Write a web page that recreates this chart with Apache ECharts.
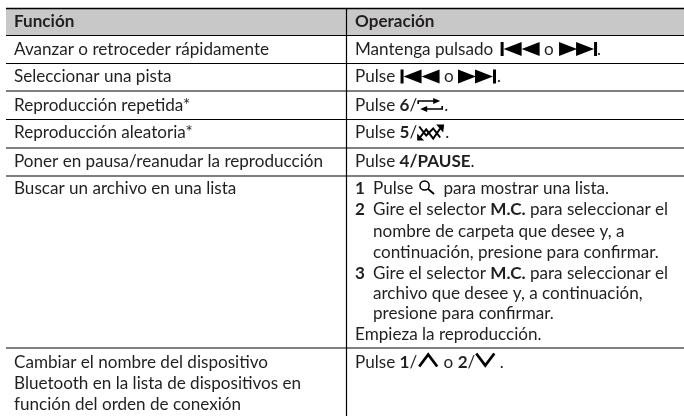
<!DOCTYPE html>
<html><head><meta charset="utf-8">
<style>html,body{margin:0;padding:0;background:#fff}#c{width:684px;height:416px}</style>
<script src="https://cdn.jsdelivr.net/npm/echarts@6/dist/echarts.min.js"></script></head>
<body><div id="c"></div>
<script>
const headers = ['Función', 'Operación'];
const functions = [
  ['Avanzar o retroceder rápidamente'],
  ['Seleccionar una pista'],
  ['Reproducción repetida*'],
  ['Reproducción aleatoria*'],
  ['Poner en pausa/reanudar la reproducción'],
  ['Buscar un archivo en una lista'],
  ['Cambiar el nombre del dispositivo', 'Bluetooth en la lista de dispositivos en', 'función del orden de conexión']
];
const operations = [
  [['Mantenga pulsado ', '+3', '#prev', ' o ', '+1', '#next', '.']],
  [['Pulse ', '+1', '#prev', ' o ', '#next', '+1', '.']],
  [['Pulse ', '*6', '/', '#repeat', '+1', '.']],
  [['Pulse ', '*5', '/', '#shuffle', '.']],
  [['Pulse ', '*4/PAUSE', '.']],
  [['>1', 'Pulse ', '#search', ' para mostrar una lista.'],
   ['>2', 'Gire el selector ', '*M.C.', ' para seleccionar el'],
   ['>', 'nombre de carpeta que desee y, a'],
   ['>', 'continuación, presione para confirmar.'],
   ['>3', 'Gire el selector ', '*M.C.', ' para seleccionar el'],
   ['>', 'archivo que desee y, a continuación,'],
   ['>', 'presione para confirmar.'],
   ['Empieza la reproducción.']],
  [['Pulse ', '*1', '/', '#up', ' o ', '*2', '/', '#down', ' .']]
];
const FONT = 'Lato', INK = '#231f20';
const rowLines = [35.5, 63.5, 91, 119.5, 148, 176, 348];
const lineCenters = [[49], [76.5], [105], [132.5], [161],
  [188.5, 209.5, 231, 252, 273, 293, 313, 334], [362.5, 383.5, 404]];
const X0 = 6, X1 = 684, XM = 346.5, TL = 14, TR = 355, TN = 373;

const ctx = document.createElement('canvas').getContext('2d');
ctx.font = '100px ' + FONT;
const SIZE = Math.round(255 / ctx.measureText(functions[0][0]).width * 1000) / 10;
const fontOf = b => (b ? 'bold ' : '') + SIZE + 'px ' + FONT;
const w = (t, b) => { ctx.font = fontOf(b); return ctx.measureText(t).width; };

const els = [];
const line = (x1, y1, x2, y2, lw) => els.push({type: 'line', shape: {x1, y1, x2, y2}, style: {stroke: '#000', lineWidth: lw || 1.2}, silent: true});
const text = (t, x, y, b) => els.push({type: 'text', x, y, style: {text: t, font: fontOf(b), fill: INK, textVerticalAlign: 'middle', textAlign: 'left'}, silent: true});
const poly = (pts) => els.push({type: 'polygon', shape: {points: pts}, style: {fill: '#000'}, silent: true});
const pl = (pts, lw) => els.push({type: 'polyline', shape: {points: pts}, style: {stroke: '#000', fill: null, lineWidth: lw}, silent: true});

const icons = {
  prev: {w: 39, draw(x, y) { els.push({type: 'rect', shape: {x, y: y - 7, width: 3, height: 14}, style: {fill: '#000'}, silent: true});
    poly([[x + 3, y], [x + 21, y - 7], [x + 21, y + 7]]); poly([[x + 21, y], [x + 39, y - 7], [x + 39, y + 7]]); }},
  next: {w: 38, draw(x, y) { els.push({type: 'rect', shape: {x: x + 35, y: y - 7, width: 3, height: 14}, style: {fill: '#000'}, silent: true});
    poly([[x, y - 7], [x + 18, y], [x, y + 7]]); poly([[x + 17, y - 7], [x + 35, y], [x + 17, y + 7]]); }},
  repeat: {w: 26, draw(x, y) { pl([[x + 1, y - 1], [x + 1, y - 4], [x + 18, y - 4]], 1.6); poly([[x + 16, y - 7], [x + 23, y - 4], [x + 16, y - 1]]);
    pl([[x + 25, y + 1], [x + 25, y + 4], [x + 8, y + 4]], 1.6); poly([[x + 10, y + 1], [x + 3, y + 4], [x + 10, y + 7]]); }},
  shuffle: {w: 28, draw(x, y) { pl([[x + 2, y + 6], [x + 9, y - 3], [x + 16, y + 6], [x + 23, y - 4]], 2); pl([[x + 2, y - 6], [x + 9, y + 3], [x + 16, y - 4], [x + 23, y + 5]], 2);
    poly([[x + 19, y - 8], [x + 27, y - 8], [x + 26, y]]); poly([[x, y + 1], [x, y + 8], [x + 7, y + 8]]); }},
  search: {w: 21.5, draw(x, y) { els.push({type: 'circle', shape: {cx: x + 7, cy: y - 3, r: 4.6}, style: {stroke: '#000', fill: null, lineWidth: 1.5}, silent: true});
    line(x + 10.5, y + 0.5, x + 16.5, y + 5.5, 1.8); }},
  up: {w: 22, draw(x, y) { pl([[x + 2, y + 4], [x + 11, y - 8], [x + 20, y + 4]], 2.8); }},
  down: {w: 20, draw(x, y) { pl([[x + 1, y - 9], [x + 10, y + 3], [x + 19, y - 9]], 2.8); }}
};

function drawLine(tokens, y) {
  let x = TR;
  tokens.forEach(tok => {
    if (tok[0] === '>') {
      if (tok.length > 1) text(tok.slice(1), TR, y, true);
      x = TN;
    } else if (tok[0] === '+') {
      x += Number(tok.slice(1));
    } else if (tok[0] === '#') {
      const ic = icons[tok.slice(1)];
      ic.draw(x, y);
      x += ic.w;
    } else if (tok[0] === '*') {
      text(tok.slice(1), x, y, true);
      x += w(tok.slice(1), true);
    } else {
      text(tok, x, y, false);
      x += w(tok, false);
    }
  });
}

function build() {
  els.length = 0;
  els.push({type: 'rect', shape: {x: X0, y: 9, width: X1 - X0, height: 26.5}, style: {fill: '#c8c8c8'}, silent: true});
  line(X0, 8.5, X1, 8.5, 1.3);
  rowLines.forEach(y => line(X0, y, X1, y));
  line(XM, 8, XM, 416);
  text(headers[0], TL, 21, true);
  text(headers[1], TR, 21, true);
  functions.forEach((rows, i) => rows.forEach((t, j) => text(t, TL, lineCenters[i][rows.length > 1 ? j : 0], false)));
  operations.forEach((rows, i) => rows.forEach((toks, j) => drawLine(toks, lineCenters[i][j])));
  return els.slice();
}
const chart = echarts.init(document.getElementById('c'), null, {renderer: 'canvas'});
chart.setOption({animation: false, backgroundColor: '#fff', graphic: {elements: build()}});
</script></body></html>
